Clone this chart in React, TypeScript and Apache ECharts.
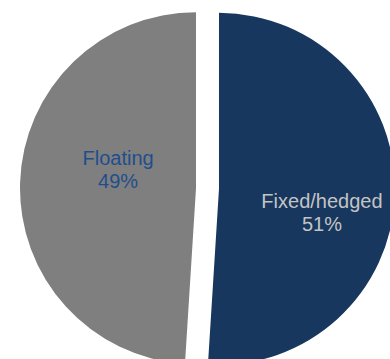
import React, { useEffect, useRef } from "react";
import * as echarts from "echarts";

const categories: string[] = ["Fixed/hedged", "Floating"];
const values: number[] = [51, 49];
const sliceColors: string[] = ["#17375E", "#7F7F7F"];
const labelColors: string[] = ["#C4C4C4", "#1F4E8C"];
const labelShift: { dx: number; dy: number }[] = [
  { dx: 12, dy: 21 },
  { dx: 13, dy: -16 },
];

export default function App() {
  const ref = useRef<HTMLDivElement>(null);
  useEffect(() => {
    if (!ref.current) return;
    const chart = echarts.init(ref.current, undefined, { renderer: "svg" });
    chart.setOption({
      animation: false,
      series: [
        {
          type: "pie",
          center: [207.5, 188.5],
          radius: 176,
          startAngle: 90,
          clockwise: true,
          selectedMode: "multiple",
          selectedOffset: 11.5,
          avoidLabelOverlap: false,
          emphasis: { disabled: true },
          label: {
            show: true,
            position: "inner",
            formatter: "{b}\n{c}%",
            fontFamily: "Liberation Sans, Arial, sans-serif",
            fontSize: 20,
            lineHeight: 23,
            align: "center",
          },
          labelLine: { show: false },
          labelLayout: (params: any) => labelShift[params.dataIndex] || {},
          data: categories.map((name, i) => ({
            name,
            value: values[i],
            selected: true,
            itemStyle: { color: sliceColors[i], borderWidth: 0 },
            label: { color: labelColors[i] },
          })),
        },
      ],
    });
    return () => chart.dispose();
  }, []);
  return (
    <div
      ref={ref}
      style={{ position: "absolute", left: 0, top: 0, width: 390, height: 359 }}
    />
  );
}
